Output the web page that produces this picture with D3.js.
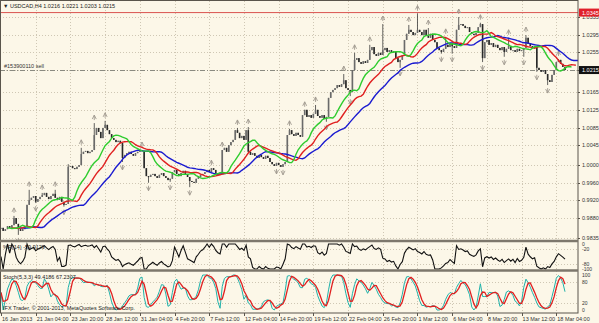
<!DOCTYPE html>
<html>
<head>
<meta charset="utf-8">
<script src="https://cdn.jsdelivr.net/npm/d3@7"></script>
<style>
body { margin: 0; background: #fcf7e8; }
svg { display: block; font-family: "Liberation Sans", Arial, sans-serif; }
</style>
</head>
<body>
<script>
var width = 599, height = 323;

// USDCAD H4 closes, in pips (price x 10000)
var closePips = [
  9858, 9851, 9855, 9862, 9858, 9864, 9880, 9867, 9855, 9851,
  9855, 9862, 9910, 9921, 9926, 9930, 9917, 9923, 9928, 9932,
  9937, 9928, 9923, 9930, 9935, 9926, 9921, 9928, 9917, 9910,
  9912, 9996, 9998, 9993, 9991, 9996, 10000, 10025, 10030, 10032,
  10027, 10030, 10034, 10068, 10084, 10075, 10061, 10084, 10091, 10079,
  10070, 10061, 10057, 10052, 10055, 10050, 10016, 10023, 10027, 10030,
  10025, 10021, 10027, 10030, 10034, 10032, 9993, 9975, 9973, 9978,
  9980, 9975, 9971, 9978, 9982, 9975, 9971, 9966, 9969, 9984,
  9989, 9980, 9975, 9982, 9987, 9980, 9973, 9964, 9962, 9960,
  9969, 9973, 9978, 9980, 9984, 9989, 9984, 9993, 9989, 9982,
  9978, 9980, 10034, 10039, 10030, 10045, 10052, 10057, 10079, 10073,
  10061, 10066, 10057, 10079, 10030, 10023, 10027, 10021, 10016, 10023,
  10018, 10014, 10021, 10016, 10007, 10002, 9998, 10005, 10000, 9996,
  10002, 10007, 10068, 10079, 10070, 10066, 10073, 10068, 10064, 10113,
  10125, 10109, 10113, 10107, 10116, 10125, 10111, 10107, 10113, 10104,
  10109, 10152, 10165, 10170, 10174, 10181, 10177, 10183, 10192, 10174,
  10170, 10165, 10215, 10238, 10242, 10233, 10229, 10235, 10231, 10238,
  10260, 10267, 10251, 10247, 10254, 10249, 10260, 10265, 10256, 10260,
  10254, 10258, 10242, 10233, 10238, 10249, 10283, 10297, 10306, 10301,
  10294, 10299, 10306, 10301, 10294, 10306, 10292, 10288, 10297, 10283,
  10278, 10265, 10260, 10256, 10263, 10272, 10267, 10274, 10269, 10265,
  10306, 10317, 10319, 10315, 10310, 10312, 10301, 10297, 10294, 10299,
  10312, 10319, 10242, 10278, 10283, 10272, 10276, 10267, 10272, 10265,
  10260, 10267, 10256, 10263, 10269, 10260, 10260, 10256, 10263, 10258,
  10260, 10265, 10288, 10274, 10269, 10265, 10267, 10220, 10215, 10211,
  10215, 10206, 10192, 10188, 10204, 10215, 10233, 10238, 10229, 10222,
  10215
];

// visible wicks that reach past the bodies: [bar, pips]
var highWicks = [
  [6, 9885], [13, 9944], [19, 9937], [25, 9944], [31, 10002], [37, 10039],
  [43, 10095], [48, 10100], [65, 10034], [97, 9993], [102, 10034],
  [109, 10084], [114, 10086], [133, 10082], [140, 10120], [145, 10136],
  [158, 10206], [163, 10254], [170, 10272], [176, 10319], [188, 10317],
  [192, 10343], [197, 10310], [205, 10290], [211, 10335], [221, 10322],
  [222, 10306], [234, 10288], [242, 10294], [257, 10240]
];
var lowWicks = [
  [8, 9842], [16, 9914], [29, 9906], [56, 10007], [68, 9960], [78, 9962],
  [87, 9950], [127, 10000], [130, 10000], [150, 10098], [161, 10156],
  [184, 10220], [203, 10252], [208, 10252], [222, 10233], [232, 10245],
  [241, 10245], [247, 10211], [252, 10181]
];

var upFractals = [6, 13, 19, 25, 37, 43, 48, 65, 97, 102, 109, 114, 133, 140,
  145, 158, 163, 170, 176, 188, 192, 197, 205, 211, 221, 234, 242, 257];
var downFractals = [8, 16, 29, 56, 68, 78, 87, 127, 130, 150, 161, 184, 203,
  208, 222, 232, 241, 247, 252];

var priceTicks = [1.0335, 1.0295, 1.0255, 1.0215, 1.0165, 1.0125, 1.0085,
  1.0045, 1.0000, 0.9960, 0.9920, 0.9880, 0.9835];
var timeLabels = ['16 Jan 2013', '21 Jan 04:00', '23 Jan 20:00', '28 Jan 12:00',
  '31 Jan 04:00', '4 Feb 20:00', '7 Feb 12:00', '12 Feb 04:00', '14 Feb 20:00',
  '19 Feb 12:00', '22 Feb 04:00', '26 Feb 20:00', '1 Mar 12:00', '6 Mar 04:00',
  '8 Mar 20:00', '13 Mar 12:00', '18 Mar 04:00'];
var timeLabelBars = [0, 16, 32, 48, 64, 80, 96, 112, 128, 144, 160, 176, 192,
  208, 224, 240, 256];

var redLevel = 1.0345;
var bidPrice = 1.0215;
var wprLevels = [0, -20, -80, -100];
var stochLevels = [100, 80, 20, 0];

// ---- build bars
var hiMap = {}, loMap = {};
highWicks.forEach(function(d) { hiMap[d[0]] = d[1] / 1e4; });
lowWicks.forEach(function(d) { loMap[d[0]] = d[1] / 1e4; });
var bars = closePips.map(function(c, i) {
  var close = c / 1e4;
  var open = (i === 0 ? closePips[0] : closePips[i - 1]) / 1e4;
  var high = Math.max(open, close, hiMap[i] || 0);
  var low = Math.min(open, close, loMap[i] || 9);
  return {i: i, open: open, close: close, high: high, low: low};
});

// alligator (smoothed MA of median price, shifted forward)
function smma(n) {
  var out = [], prev;
  bars.forEach(function(b, i) {
    var m = (b.high + b.low) / 2;
    prev = i === 0 ? m : (prev * (n - 1) + m) / n;
    out.push(prev);
  });
  return out;
}
var jaw = smma(13), teeth = smma(8), lips = smma(5);

// williams %R(14)
var wpr = bars.map(function(b, i) {
  var w = bars.slice(Math.max(0, i - 13), i + 1);
  var hh = d3.max(w, function(d) { return d.high; });
  var ll = d3.min(w, function(d) { return d.low; });
  return hh === ll ? -50 : (hh - b.close) / (hh - ll) * -100;
});

// stochastic(5,3,3)
var num = [], den = [];
bars.forEach(function(b, i) {
  var w = bars.slice(Math.max(0, i - 4), i + 1);
  var hh = d3.max(w, function(d) { return d.high; });
  var ll = d3.min(w, function(d) { return d.low; });
  num.push(b.close - ll);
  den.push(hh - ll);
});
var stK = bars.map(function(b, i) {
  var a = Math.max(0, i - 2);
  var s1 = d3.sum(num.slice(a, i + 1)), s2 = d3.sum(den.slice(a, i + 1));
  return s2 === 0 ? 50 : s1 / s2 * 100;
});
var stD = stK.map(function(v, i) {
  return d3.mean(stK.slice(Math.max(0, i - 2), i + 1));
});

// ---- layout
var axisX = 578;
var x = d3.scaleLinear().domain([0, 260]).range([1, 565]);
var y = d3.scaleLinear().domain([0.9835, 1.0335]).range([238, 17]);
var wy = d3.scaleLinear().domain([-100, 0]).range([269, 244]);
var sy = d3.scaleLinear().domain([0, 100]).range([310, 275]);

var svg = d3.select('body').append('svg')
    .attr('width', width)
    .attr('height', height);

svg.append('rect')
    .attr('width', width)
    .attr('height', height)
    .attr('fill', '#fcf7e8');

var defs = svg.append('defs');
defs.append('clipPath').attr('id', 'clipMain').append('rect')
    .attr('x', 0).attr('y', 1).attr('width', axisX).attr('height', 239);
defs.append('clipPath').attr('id', 'clipSub').append('rect')
    .attr('x', 0).attr('y', 242).attr('width', axisX).attr('height', 71);

var gridColor = '#cfc7b4';

// vertical grid
svg.append('g').selectAll('line')
    .data(timeLabelBars.slice(1))
    .enter().append('line')
    .attr('x1', function(d) { return Math.round(x(d)) + 0.5; })
    .attr('x2', function(d) { return Math.round(x(d)) + 0.5; })
    .attr('y1', 1).attr('y2', 313)
    .attr('stroke', gridColor)
    .attr('stroke-dasharray', '1,2');

// horizontal grid main
svg.append('g').selectAll('line')
    .data(priceTicks)
    .enter().append('line')
    .attr('x1', 0).attr('x2', axisX)
    .attr('y1', function(d) { return Math.round(y(d)) + 0.5; })
    .attr('y2', function(d) { return Math.round(y(d)) + 0.5; })
    .attr('stroke', gridColor)
    .attr('stroke-dasharray', '1,2');

// level lines in sub windows
svg.append('g').selectAll('line')
    .data([-20, -80])
    .enter().append('line')
    .attr('x1', 0).attr('x2', axisX)
    .attr('y1', function(d) { return Math.round(wy(d)) + 0.5; })
    .attr('y2', function(d) { return Math.round(wy(d)) + 0.5; })
    .attr('stroke', gridColor)
    .attr('stroke-dasharray', '1,2');
svg.append('g').selectAll('line')
    .data([80, 20])
    .enter().append('line')
    .attr('x1', 0).attr('x2', axisX)
    .attr('y1', function(d) { return Math.round(sy(d)) + 0.5; })
    .attr('y2', function(d) { return Math.round(sy(d)) + 0.5; })
    .attr('stroke', gridColor)
    .attr('stroke-dasharray', '1,2');

var main = svg.append('g').attr('clip-path', 'url(#clipMain)');

// red horizontal line
main.append('line')
    .attr('x1', 0).attr('x2', axisX)
    .attr('y1', y(redLevel)).attr('y2', y(redLevel))
    .attr('stroke', '#d9534f')
    .attr('stroke-width', 1);

// order line
main.append('line')
    .attr('x1', 0).attr('x2', axisX)
    .attr('y1', Math.round(y(bidPrice)) + 0.5).attr('y2', Math.round(y(bidPrice)) + 0.5)
    .attr('stroke', '#8a8a80')
    .attr('stroke-dasharray', '5,2,1,2');
main.append('text')
    .attr('x', 4).attr('y', y(bidPrice) - 2)
    .attr('font-size', 5.5)
    .attr('fill', '#333')
    .text('#153900110 sell');

// candles
var cg = main.append('g');
cg.selectAll('line')
    .data(bars)
    .enter().append('line')
    .attr('x1', function(d) { return x(d.i); })
    .attr('x2', function(d) { return x(d.i); })
    .attr('y1', function(d) { return y(d.high); })
    .attr('y2', function(d) { return y(d.low); })
    .attr('stroke', '#3a3a3a')
    .attr('stroke-width', 0.8);
cg.selectAll('rect')
    .data(bars)
    .enter().append('rect')
    .attr('x', function(d) { return x(d.i) - 0.8; })
    .attr('width', 1.6)
    .attr('y', function(d) { return y(Math.max(d.open, d.close)); })
    .attr('height', function(d) { return Math.max(1, Math.abs(y(d.open) - y(d.close))); })
    .attr('fill', function(d) { return d.close >= d.open ? '#6a6a6a' : '#2a2a2a'; });

// fractals
var upArrow = 'M-2,2L0,-2L2,2M0,-2L0,3';
var dnArrow = 'M-2,-2L0,2L2,-2M0,2L0,-3';
main.append('g').selectAll('path')
    .data(upFractals)
    .enter().append('path')
    .attr('d', upArrow)
    .attr('transform', function(d) { return 'translate(' + x(d) + ',' + (y(bars[d].high) - 6) + ')'; })
    .attr('fill', 'none')
    .attr('stroke', '#a09a90')
    .attr('stroke-width', 0.9);
main.append('g').selectAll('path')
    .data(downFractals)
    .enter().append('path')
    .attr('d', dnArrow)
    .attr('transform', function(d) { return 'translate(' + x(d) + ',' + (y(bars[d].low) + 6) + ')'; })
    .attr('fill', 'none')
    .attr('stroke', '#a09a90')
    .attr('stroke-width', 0.9);

// alligator lines
function maLine(vals, shift) {
  return d3.line()
      .x(function(d, i) { return x(i + shift); })
      .y(function(d) { return y(d); })(vals);
}
[[jaw, 8, '#1a1ad0'], [teeth, 5, '#e02020'], [lips, 3, '#2ecc2e']].forEach(function(s) {
  main.append('path')
      .attr('d', maLine(s[0], s[1]))
      .attr('fill', 'none')
      .attr('stroke', s[2])
      .attr('stroke-width', 1.4);
});

// sub windows
var sub = svg.append('g').attr('clip-path', 'url(#clipSub)');
sub.append('path')
    .attr('d', d3.line()
        .x(function(d, i) { return x(i); })
        .y(function(d) { return wy(d); })(wpr))
    .attr('fill', 'none')
    .attr('stroke', '#111')
    .attr('stroke-width', 1.1);
sub.append('path')
    .attr('d', d3.line()
        .x(function(d, i) { return x(i); })
        .y(function(d) { return sy(d); })(stK))
    .attr('fill', 'none')
    .attr('stroke', '#20b2aa')
    .attr('stroke-width', 1);
sub.append('path')
    .attr('d', d3.line()
        .x(function(d, i) { return x(i); })
        .y(function(d) { return sy(d); })(stD))
    .attr('fill', 'none')
    .attr('stroke', '#e02020')
    .attr('stroke-width', 1.3);

// frames and separators
svg.append('rect')
    .attr('x', 0.5).attr('y', 0.5)
    .attr('width', axisX - 0.5).attr('height', 312.5)
    .attr('fill', 'none')
    .attr('stroke', '#5a554c');
[241, 270.5].forEach(function(yy) {
  svg.append('line')
      .attr('x1', 0).attr('x2', axisX)
      .attr('y1', yy).attr('y2', yy)
      .attr('stroke', '#7d776c')
      .attr('stroke-width', 2.5);
});

// right price axis
var ra = svg.append('g');
ra.selectAll('line')
    .data(priceTicks)
    .enter().append('line')
    .attr('x1', axisX).attr('x2', axisX + 2)
    .attr('y1', function(d) { return Math.round(y(d)) + 0.5; })
    .attr('y2', function(d) { return Math.round(y(d)) + 0.5; })
    .attr('stroke', '#5a554c');
ra.selectAll('text')
    .data(priceTicks)
    .enter().append('text')
    .attr('x', axisX + 4)
    .attr('y', function(d) { return y(d) + 2; })
    .attr('font-size', 5.5)
    .attr('fill', '#333')
    .text(function(d) { return d.toFixed(4); });

// price boxes
function priceBox(v, bg) {
  svg.append('rect')
      .attr('x', axisX + 1).attr('y', y(v) - 4)
      .attr('width', 21).attr('height', 8)
      .attr('fill', bg);
  svg.append('text')
      .attr('x', axisX + 4).attr('y', y(v) + 2)
      .attr('font-size', 5.5)
      .attr('fill', '#fff')
      .text(v.toFixed(4));
}
priceBox(redLevel, '#e0202a');
priceBox(bidPrice, '#111');

// sub window scales
svg.append('g').selectAll('text')
    .data(wprLevels)
    .enter().append('text')
    .attr('x', axisX + 4)
    .attr('y', function(d) { return wy(d) + 2; })
    .attr('font-size', 5)
    .attr('fill', '#333')
    .text(function(d) { return d; });
svg.append('g').selectAll('text')
    .data(stochLevels)
    .enter().append('text')
    .attr('x', axisX + 4)
    .attr('y', function(d) { return sy(d) + 2; })
    .attr('font-size', 5)
    .attr('fill', '#333')
    .text(function(d) { return d; });

// time axis
var ta = svg.append('g');
ta.selectAll('line')
    .data(timeLabelBars)
    .enter().append('line')
    .attr('x1', function(d) { return Math.round(x(d)) + 0.5; })
    .attr('x2', function(d) { return Math.round(x(d)) + 0.5; })
    .attr('y1', 313).attr('y2', 316)
    .attr('stroke', '#5a554c');
ta.selectAll('text')
    .data(timeLabels)
    .enter().append('text')
    .attr('x', function(d, i) { return x(timeLabelBars[i]) + 1; })
    .attr('y', 321)
    .attr('font-size', 5.5)
    .attr('fill', '#333')
    .text(function(d) { return d; });

// captions
svg.append('text')
    .attr('x', 3).attr('y', 8)
    .attr('font-size', 5.5)
    .attr('fill', '#222')
    .text('\u25BC USDCAD,H4  1.0216 1.0221 1.0203 1.0215');
svg.append('text')
    .attr('x', 3).attr('y', 249)
    .attr('font-size', 5.5)
    .attr('fill', '#222')
    .text('%R(14) -59.9129');
svg.append('text')
    .attr('x', 3).attr('y', 279)
    .attr('font-size', 5.5)
    .attr('fill', '#222')
    .text('Stoch(5,3,3) 49.4186 67.2307');
svg.append('text')
    .attr('x', 3).attr('y', 310)
    .attr('font-size', 5.5)
    .attr('fill', '#222')
    .text('IFX Trader, \u00A9 2001-2013, MetaQuotes Software Corp.');
</script>
</body>
</html>
